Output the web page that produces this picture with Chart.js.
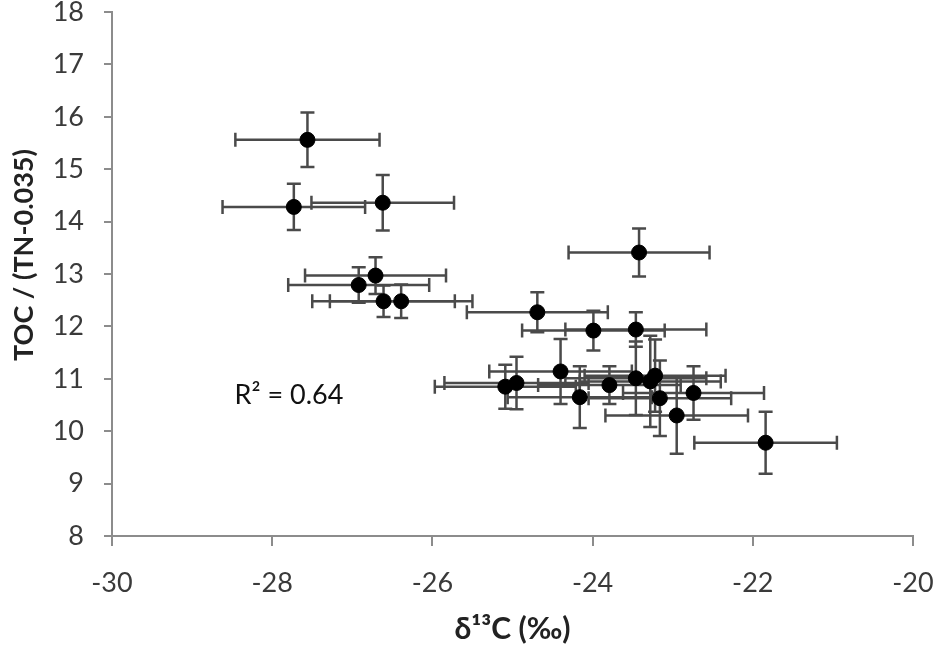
<!DOCTYPE html>
<html>
<head>
<meta charset="utf-8">
<script src="https://cdn.jsdelivr.net/npm/chart.js@4.4.1/dist/chart.umd.min.js"></script>
<style>
  html, body { margin: 0; padding: 0; background: #fff; }
  #wrap { width: 936px; height: 650px; }
</style>
</head>
<body>
<div id="wrap"><canvas id="grafico" width="936" height="650"></canvas></div>
<script>
// valores
const d13C = [-27.56, -27.73, -26.62, -26.92, -26.71, -26.61, -26.39, -23.42, -24.69, -23.99, -23.46, -24.40,
              -25.09, -24.95, -24.16, -23.79, -23.46, -23.28, -23.22, -23.16, -22.95, -22.74, -21.84];
const tocTn = [15.56, 14.28, 14.36, 12.79, 12.97, 12.48, 12.48, 13.41, 12.27, 11.92, 11.94, 11.14,
               10.85, 10.92, 10.65, 10.88, 11.01, 10.95, 11.06, 10.63, 10.30, 10.73, 9.78];
const d13CErr = [0.90, 0.89, 0.89, 0.88, 0.88, 0.89, 0.89, 0.88, 0.88, 0.89, 0.88, 0.89,
                 0.88, 0.90, 0.90, 0.89, 0.88, 0.88, 0.88, 0.89, 0.89, 0.88, 0.89];
const tocTnErr = [0.52, 0.44, 0.53, 0.34, 0.35, 0.30, 0.32, 0.46, 0.38, 0.38, 0.33, 0.62,
                  0.42, 0.50, 0.59, 0.36, 0.70, 0.87, 0.69, 0.72, 0.73, 0.51, 0.59];
const xTicks = [-30, -28, -26, -24, -22, -20];
const yTicks = [8, 9, 10, 11, 12, 13, 14, 15, 16, 17, 18];
const r2Texto = 'R² = 0.64';
const r2Pos = { x: -28.47, y: 10.69 };

const fuente = "Lato, 'Open Sans', sans-serif";

const errorBars = {
    id: 'errorBars',
    beforeDatasetsDraw(chart) {
        const { ctx, scales: { x, y } } = chart;
        const cap = 7;
        ctx.save();
        ctx.strokeStyle = '#4a4a4a';
        ctx.lineWidth = 2.5;
        d13C.forEach((v, i) => {
            const px = x.getPixelForValue(v);
            const py = y.getPixelForValue(tocTn[i]);
            const x1 = x.getPixelForValue(v - d13CErr[i]);
            const x2 = x.getPixelForValue(v + d13CErr[i]);
            const y1 = y.getPixelForValue(tocTn[i] + tocTnErr[i]);
            const y2 = y.getPixelForValue(tocTn[i] - tocTnErr[i]);
            ctx.beginPath();
            ctx.moveTo(x1, py); ctx.lineTo(x2, py);
            ctx.moveTo(x1, py - cap); ctx.lineTo(x1, py + cap);
            ctx.moveTo(x2, py - cap); ctx.lineTo(x2, py + cap);
            ctx.moveTo(px, y1); ctx.lineTo(px, y2);
            ctx.moveTo(px - cap, y1); ctx.lineTo(px + cap, y1);
            ctx.moveTo(px - cap, y2); ctx.lineTo(px + cap, y2);
            ctx.stroke();
        });
        ctx.restore();
    },
    afterDraw(chart) {
        const { ctx, scales: { x, y } } = chart;
        ctx.save();
        // texto R2
        ctx.fillStyle = '#111';
        ctx.font = "27px " + fuente;
        ctx.textAlign = 'left';
        ctx.textBaseline = 'middle';
        ctx.fillText(r2Texto, x.getPixelForValue(r2Pos.x), y.getPixelForValue(r2Pos.y));
        // titulo eje y
        ctx.translate(24, 255);
        ctx.rotate(-Math.PI / 2);
        ctx.font = "bold 27px " + fuente;
        ctx.textAlign = 'center';
        ctx.fillStyle = '#222';
        ctx.fillText('TOC / (TN-0.035)', 0, 0);
        ctx.restore();
    }
};

const ctx = document.getElementById('grafico').getContext('2d');
const grafico = new Chart(ctx, {
    type: 'scatter',
    data: {
        datasets: [{
            label: 'TOC/TN',
            data: d13C.map((v, i) => ({ x: v, y: tocTn[i] })),
            backgroundColor: '#000',
            borderColor: '#000',
            pointRadius: 7.5,
            pointHoverRadius: 7.5
        }]
    },
    options: {
        responsive: false,
        animation: false,
        layout: { padding: 0 },
        plugins: {
            legend: { display: false },
            tooltip: { enabled: false }
        },
        scales: {
            x: {
                type: 'linear',
                min: -30,
                max: -20,
                afterBuildTicks: (s) => { s.ticks = xTicks.map(v => ({ value: v })); },
                afterFit: (s) => { s.height = 114; s.paddingLeft = 0; s.paddingRight = 23; },
                ticks: {
                    color: '#3a3a3a',
                    font: { family: fuente, size: 27, lineHeight: 1 },
                    padding: 24
                },
                grid: { drawOnChartArea: false, color: '#8c8c8c', tickLength: 10, lineWidth: 2 },
                border: { color: '#8c8c8c', width: 2 },
                title: {
                    display: true,
                    text: 'δ¹³C (‰)',
                    color: '#222',
                    font: { family: fuente, size: 30, weight: 'bold' },
                    padding: { top: 0, bottom: 3 }
                }
            },
            y: {
                type: 'linear',
                min: 8,
                max: 18,
                afterBuildTicks: (s) => { s.ticks = yTicks.map(v => ({ value: v })); },
                afterFit: (s) => { s.width = 112; s.paddingTop = 12; s.paddingBottom = 0; },
                ticks: {
                    color: '#3a3a3a',
                    font: { family: fuente, size: 27, lineHeight: 1 },
                    padding: 20
                },
                grid: { drawOnChartArea: false, color: '#8c8c8c', tickLength: 8, lineWidth: 2 },
                border: { color: '#8c8c8c', width: 2 }
            }
        }
    },
    plugins: [errorBars]
});
</script>
</body>
</html>
